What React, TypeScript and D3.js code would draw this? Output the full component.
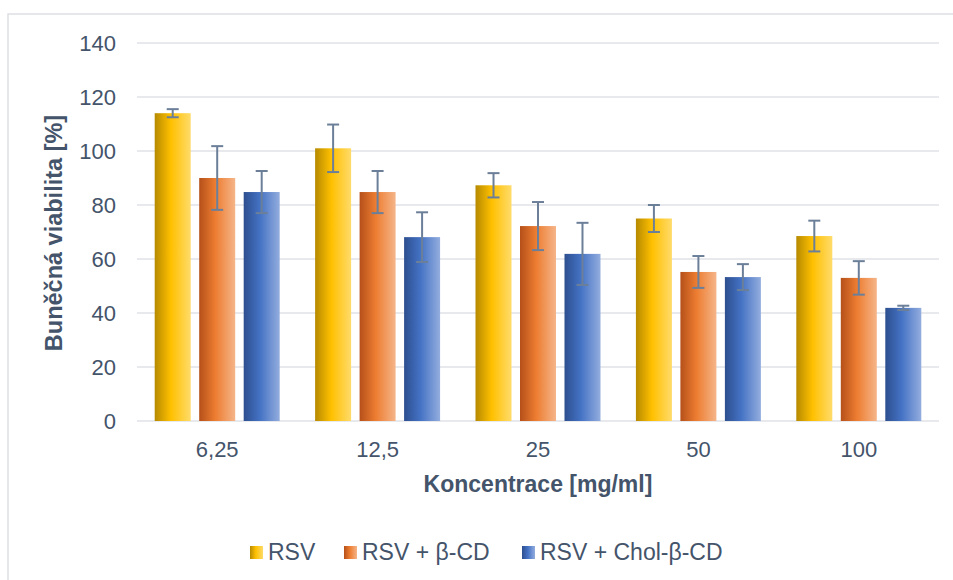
import React from "react";
import * as d3 from "d3";

const categories = ["6,25", "12,5", "25", "50", "100"];
const seriesNames = ["RSV", "RSV + β-CD", "RSV + Chol-β-CD"];
const rsvValues = [114, 101, 87.3, 75, 68.5];
const rsvErrors = [1.5, 8.8, 4.5, 5, 5.7];
const bcdValues = [90, 84.8, 72.2, 55.2, 53];
const bcdErrors = [11.8, 7.8, 8.9, 5.9, 6.2];
const cholValues = [84.8, 68.1, 61.9, 53.3, 41.9];
const cholErrors = [7.8, 9.2, 11.5, 4.8, 0.8];
const yTicks = [0, 20, 40, 60, 80, 100, 120, 140];

const gradients = [
  ["#B68A00", "#FFC000", "#FFDB6A"],
  ["#B5501A", "#ED7D31", "#F5B589"],
  ["#2D4F8F", "#4472C4", "#93ADDE"],
];

const W = 953, H = 580;
const left = 137, right = 939, top = 43, bottom = 421;
const textColor = "#44546A";
const font = "'Liberation Sans', Arial, sans-serif";

export default function App() {
  const values = [rsvValues, bcdValues, cholValues];
  const errors = [rsvErrors, bcdErrors, cholErrors];
  const x0 = d3.scaleBand<string>().domain(categories).range([left, right]).padding(0);
  const x1 = d3
    .scaleBand<number>()
    .domain([0, 1, 2])
    .range([0, x0.bandwidth()])
    .paddingInner(0.191)
    .paddingOuter(0.398);
  const y = d3.scaleLinear().domain([0, 140]).range([bottom, top]);

  const legendX = [250, 344, 522];

  return (
    <svg
      width={W}
      height={H}
      style={{ position: "absolute", left: 0, top: 0, background: "#fff" }}
      fontFamily={font}
    >
      <defs>
        {gradients.map((g, i) => (
          <linearGradient key={i} id={`g${i}`} x1="0" x2="1" y1="0" y2="0">
            <stop offset="0" stopColor={g[0]} />
            <stop offset="0.45" stopColor={g[1]} />
            <stop offset="1" stopColor={g[2]} />
          </linearGradient>
        ))}
      </defs>
      <rect x={8} y={14} width={980} height={620} fill="#fff" stroke="#DDE0E4" strokeWidth={1.5} />
      {yTicks.map((t) => (
        <g key={t}>
          <line x1={left} x2={right} y1={y(t)} y2={y(t)} stroke="#DFE2E7" strokeWidth={1.6} />
          <text
            x={116}
            y={y(t)}
            dy="0.36em"
            textAnchor="end"
            fontSize={22}
            fill={textColor}
          >
            {t}
          </text>
        </g>
      ))}
      {categories.map((c, ci) => (
        <g key={c}>
          {values.map((vals, si) => {
            const bx = (x0(c) as number) + (x1(si) as number);
            const bw = x1.bandwidth();
            const v = vals[ci];
            const e = errors[si][ci];
            const cx = bx + bw / 2;
            return (
              <g key={si}>
                <rect x={bx} y={y(v)} width={bw} height={y(0) - y(v)} fill={`url(#g${si})`} />
                <line x1={cx} x2={cx} y1={y(v + e)} y2={y(v - e)} stroke="#6C7F99" strokeWidth={2} />
                <line x1={cx - 6} x2={cx + 6} y1={y(v + e)} y2={y(v + e)} stroke="#6C7F99" strokeWidth={2} />
                <line x1={cx - 6} x2={cx + 6} y1={y(v - e)} y2={y(v - e)} stroke="#6C7F99" strokeWidth={2} />
              </g>
            );
          })}
          <text
            x={(x0(c) as number) + x0.bandwidth() / 2}
            y={457}
            textAnchor="middle"
            fontSize={22}
            fill={textColor}
          >
            {c}
          </text>
        </g>
      ))}
      <text x={538} y={492} textAnchor="middle" fontSize={23} fontWeight="bold" fill={textColor}>
        Koncentrace [mg/ml]
      </text>
      <text
        transform={`translate(62, 233) rotate(-90)`}
        textAnchor="middle"
        fontSize={23.5}
        fontWeight="bold"
        fill={textColor}
      >
        Buněčná viabilita [%]
      </text>
      {seriesNames.map((s, i) => (
        <g key={s}>
          <rect x={legendX[i]} y={546} width={13} height={13} fill={`url(#g${i})`} />
          <text x={legendX[i] + 18} y={560} fontSize={23} fill={textColor}>
            {s}
          </text>
        </g>
      ))}
    </svg>
  );
}
